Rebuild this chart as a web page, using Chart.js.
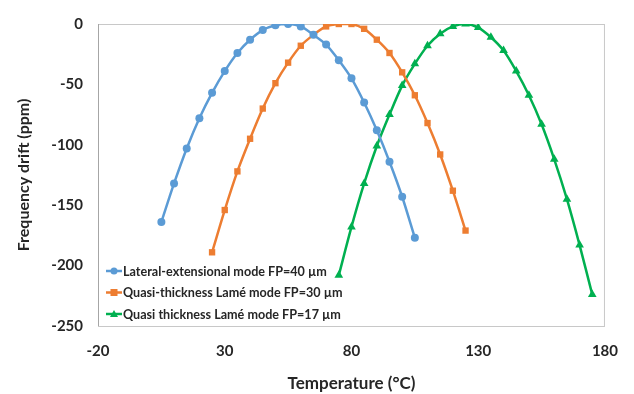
<!DOCTYPE html>
<html>
<head>
<meta charset="utf-8">
<script src="https://cdn.jsdelivr.net/npm/chart.js@4.4.0/dist/chart.umd.min.js"></script>
<style>
  html, body { margin: 0; padding: 0; background: #fff; }
  #wrap { width: 634px; height: 394px; position: relative; }
</style>
</head>
<body>
<div id="wrap"><canvas id="driftChart"></canvas></div>
<script>
// temperatures (°C) and frequency drift (ppm)
const tempLateral = [5, 10, 15, 20, 25, 30, 35, 40, 45, 50, 55, 60, 65, 70, 75, 80, 85, 90, 95, 100, 105];
const driftLateral = [-164, -132, -103, -78, -57, -39, -24, -13, -5, -1, 0, -2, -9, -17, -30, -45, -65, -88, -114, -143, -177];

const tempQuasi30 = [25, 30, 35, 40, 45, 50, 55, 60, 65, 70, 75, 80, 85, 90, 95, 100, 105, 110, 115, 120, 125];
const driftQuasi30 = [-189, -154, -122, -95, -70, -49, -32, -18, -9, -2, 0, 0, -4, -13, -24, -40, -59, -82, -108, -138, -171];

const tempQuasi17 = [75, 80, 85, 90, 95, 100, 105, 110, 115, 120, 125, 130, 135, 140, 145, 150, 155, 160, 165, 170, 175];
const driftQuasi17 = [-208, -168, -132, -101, -75, -51, -33, -18, -8, -2, 0, -3, -11, -22, -39, -59, -83, -112, -145, -183, -224];

const seriesLabels = [
    'Lateral-extensional mode FP=40 µm',
    'Quasi-thickness Lamé mode FP=30 µm',
    'Quasi thickness Lamé mode FP=17 µm'
];
const xTicks = [-20, 30, 80, 130, 180];

const toPoints = (xs, ys) => xs.map((x, i) => ({ x: x, y: ys[i] }));

// frame around the plot area, like the Excel original
const frame = {
    id: 'frame',
    beforeDatasetsDraw(chart) {
        const a = chart.chartArea;
        const c = chart.ctx;
        c.save();
        c.strokeStyle = '#c8c8c8';
        c.lineWidth = 1;
        c.strokeRect(a.left + 0.5, a.top + 0.5, a.right - a.left - 1, a.bottom - a.top);
        c.strokeStyle = '#a6a6a6';
        c.beginPath();
        c.moveTo(a.left + 0.5, a.top);
        c.lineTo(a.left + 0.5, a.bottom);
        c.stroke();
        c.restore();
    }
};

// legend sits inside the plot, lower left
const insideLegend = {
    id: 'insideLegend',
    afterDraw(chart) {
        const c = chart.ctx;
        const a = chart.chartArea;
        c.save();
        c.font = 'bold 12.6px Lato';
        c.textBaseline = 'middle';
        chart.data.datasets.forEach((ds, i) => {
            const y = a.bottom - 55 + i * 21.5;
            const x0 = a.left + 8;
            c.strokeStyle = ds.borderColor;
            c.lineWidth = 2.5;
            c.beginPath();
            c.moveTo(x0, y);
            c.lineTo(x0 + 16, y);
            c.stroke();
            c.fillStyle = ds.backgroundColor;
            const mx = x0 + 8;
            if (ds.pointStyle === 'circle') {
                c.beginPath(); c.arc(mx, y, 3.5, 0, Math.PI * 2); c.fill();
            } else if (ds.pointStyle === 'rect') {
                c.fillRect(mx - 3.5, y - 3.5, 7, 7);
            } else {
                c.beginPath(); c.moveTo(mx, y - 4); c.lineTo(mx + 4, y + 3); c.lineTo(mx - 4, y + 3); c.closePath(); c.fill();
            }
            c.fillStyle = '#262626';
            c.fillText(ds.label, x0 + 17, y + 0.5);
        });
        c.restore();
    }
};

const ctx = document.getElementById('driftChart').getContext('2d');
const driftChart = new Chart(ctx, {
    type: 'scatter',
    data: {
        datasets: [{
            label: seriesLabels[0],
            data: toPoints(tempLateral, driftLateral),
            borderColor: '#5B9BD5',
            backgroundColor: '#5B9BD5',
            pointStyle: 'circle',
            pointRadius: 4
        }, {
            label: seriesLabels[1],
            data: toPoints(tempQuasi30, driftQuasi30),
            borderColor: '#ED7D31',
            backgroundColor: '#ED7D31',
            pointStyle: 'rect',
            pointRadius: 4.5
        }, {
            label: seriesLabels[2],
            data: toPoints(tempQuasi17, driftQuasi17),
            borderColor: '#00B050',
            backgroundColor: '#00B050',
            pointStyle: 'triangle',
            pointRadius: 5
        }]
    },
    options: {
        responsive: true,
        maintainAspectRatio: false,
        animation: false,
        showLine: true,
        elements: {
            line: { borderWidth: 2.5, tension: 0.3 },
            point: { borderWidth: 0 }
        },
        layout: { padding: { top: 13, right: 26, left: 0, bottom: 0 } },
        plugins: {
            legend: { display: false },
            tooltip: { enabled: false }
        },
        scales: {
            x: {
                type: 'linear',
                min: -20,
                max: 180,
                afterBuildTicks: scale => { scale.ticks = xTicks.map(v => ({ value: v })); },
                afterFit: scale => { scale.height = 68; },
                grid: { display: false, drawTicks: false },
                border: { display: false },
                ticks: {
                    color: '#262626',
                    padding: 16,
                    maxRotation: 0,
                    font: { family: 'Lato', size: 15, weight: 'bold' }
                },
                title: {
                    display: true,
                    text: 'Temperature (°C)',
                    color: '#262626',
                    padding: { top: 5, bottom: 0 },
                    font: { family: 'Lato', size: 17, weight: 'bold' }
                }
            },
            y: {
                min: -250,
                max: 0,
                afterFit: scale => { scale.width = 98; },
                grid: { display: false, drawTicks: false },
                border: { display: false },
                ticks: {
                    stepSize: 50,
                    color: '#262626',
                    padding: 15,
                    font: { family: 'Lato', size: 15, weight: 'bold' }
                },
                title: {
                    display: true,
                    text: 'Frequency drift (ppm)',
                    color: '#262626',
                    padding: { top: 14, bottom: 6 },
                    font: { family: 'Lato', size: 16, weight: 'bold' }
                }
            }
        }
    },
    plugins: [frame, insideLegend]
});
</script>
</body>
</html>
